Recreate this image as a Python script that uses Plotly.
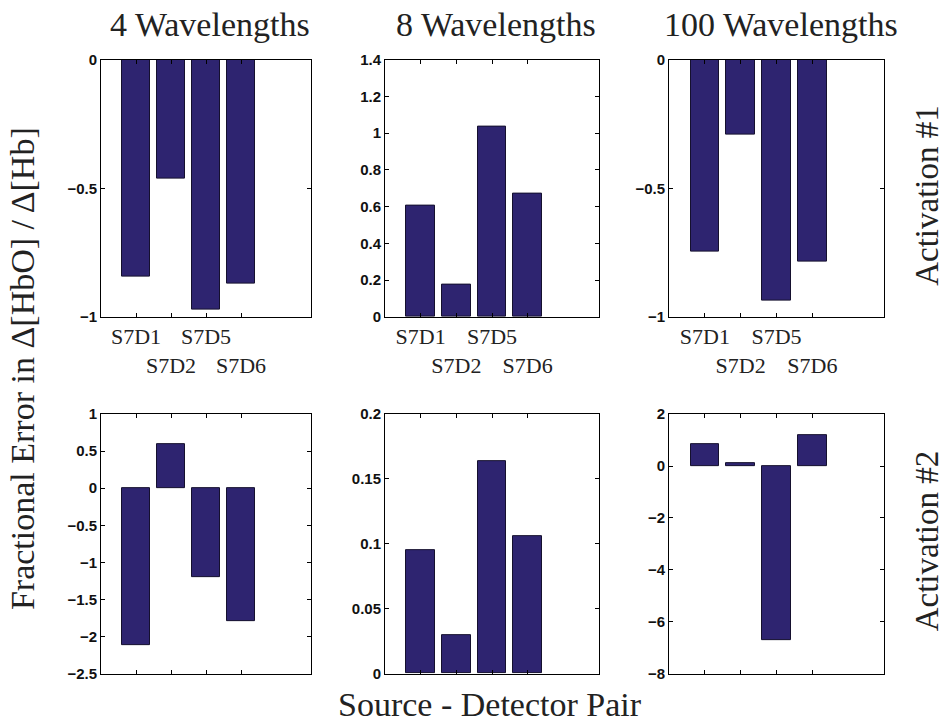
import plotly.graph_objects as go

# ---------------- data ----------------
pairs = ["S7D1", "S7D2", "S7D5", "S7D6"]
pair_labels = ["S7D1", "<br>S7D2", "S7D5", "<br>S7D6"]   # staggered rows

col_titles = ["4 Wavelengths", "8 Wavelengths", "100 Wavelengths"]
row_titles = ["Activation #1", "Activation #2"]

act1_4wl = [-0.843, -0.464, -0.973, -0.870]
act1_8wl = [0.605, 0.174, 1.033, 0.672]
act1_100wl = [-0.746, -0.293, -0.938, -0.785]

act2_4wl = [-2.12, 0.595, -1.20, -1.795]
act2_8wl = [0.0954, 0.0296, 0.164, 0.106]
act2_100wl = [0.86, 0.10, -6.71, 1.19]

y_ranges = [[-1, 0], [0, 1.4], [-1, 0], [-2.5, 1], [0, 0.2], [-8, 2]]
y_ticks = [
    [-1, -0.5, 0],
    [0, 0.2, 0.4, 0.6, 0.8, 1, 1.2, 1.4],
    [-1, -0.5, 0],
    [-2.5, -2, -1.5, -1, -0.5, 0, 0.5, 1],
    [0, 0.05, 0.1, 0.15, 0.2],
    [-8, -6, -4, -2, 0, 2],
]

# ---------------- layout helpers ----------------
W, H = 947, 736
BAR_COLOR = "#2e2470"
SERIF = "Liberation Serif, Times New Roman, serif"
SANS = "Liberation Sans, Arial, sans-serif"

col_px = [(101, 311), (385, 599), (669, 884)]
row_px = [(59, 316), (413, 672)]

def px_x(p):
    return p / W

def px_y(p):
    # empirical correction for vertical placement
    q = (p - 8.45) / 0.9755
    return 1 - q / H

series = [act1_4wl, act1_8wl, act1_100wl, act2_4wl, act2_8wl, act2_100wl]
xs = list(range(1, len(pairs) + 1))

fig = go.Figure()
layout = {}
for i, vals in enumerate(series):
    r, c = divmod(i, 3)
    n = i + 1
    xa = "x" if n == 1 else f"x{n}"
    ya = "y" if n == 1 else f"y{n}"
    fig.add_trace(go.Bar(
        x=xs, y=vals, width=0.8, xaxis=xa, yaxis=ya,
        marker=dict(color=BAR_COLOR, line=dict(color="#15102e", width=1)),
        showlegend=False, hoverinfo="y",
    ))
    xkey = "xaxis" if n == 1 else f"xaxis{n}"
    ykey = "yaxis" if n == 1 else f"yaxis{n}"
    layout[xkey] = dict(
        domain=[px_x(col_px[c][0]), px_x(col_px[c][1])],
        anchor=ya, range=[0, 6],
        tickvals=xs, ticktext=pair_labels if r == 0 else [""] * len(pairs),
        showticklabels=(r == 0), tickangle=0,
        tickfont=dict(family=SERIF, size=22, color="#222"),
        ticks="inside", ticklen=4, tickcolor="black", tickwidth=1,
        showline=True, linecolor="black", linewidth=1, mirror="ticks",
        showgrid=False, zeroline=False, fixedrange=True,
    )
    layout[ykey] = dict(
        domain=[px_y(row_px[r][1]), px_y(row_px[r][0])],
        anchor=xa, range=y_ranges[i], tickvals=y_ticks[i],
        tickfont=dict(family=SANS, size=15, color="#111", weight="bold"),
        ticks="inside", ticklen=4, tickcolor="black", tickwidth=1,
        showline=True, linecolor="black", linewidth=1, mirror="ticks",
        showgrid=False, zeroline=False, fixedrange=True,
    )

annotations = []
for c, t in enumerate(col_titles):
    annotations.append(dict(
        text=t, x=px_x((col_px[c][0] + col_px[c][1]) / 2 + 4), y=px_y(24),
        xref="paper", yref="paper", showarrow=False,
        xanchor="center", yanchor="middle",
        font=dict(family=SERIF, size=34, color="#222"),
    ))
row_label_y = [195, 540]
for r, t in enumerate(row_titles):
    annotations.append(dict(
        text=t, x=px_x(927), y=px_y(row_label_y[r]),
        xref="paper", yref="paper", showarrow=False, textangle=-90,
        xanchor="center", yanchor="middle",
        font=dict(family=SERIF, size=33, color="#222"),
    ))
annotations.append(dict(
    text="Fractional Error in Δ[HbO] / Δ[Hb]", x=px_x(22), y=px_y(368),
    xref="paper", yref="paper", showarrow=False, textangle=-90,
    xanchor="center", yanchor="middle",
    font=dict(family=SERIF, size=34, color="#222"),
))
annotations.append(dict(
    text="Source - Detector Pair", x=px_x(490), y=px_y(703),
    xref="paper", yref="paper", showarrow=False,
    xanchor="center", yanchor="middle",
    font=dict(family=SERIF, size=34, color="#222"),
))

fig.update_layout(
    width=W, height=H,
    margin=dict(l=0, r=0, t=0, b=0),
    paper_bgcolor="white", plot_bgcolor="white",
    bargap=0, annotations=annotations,
    **layout,
)

fig.write_html(
    "out.html",
    config={"displayModeBar": False},
    post_script=(
        "document.documentElement.style.margin='0';"
        "document.body.style.margin='0';"
        "document.body.style.overflow='hidden';"
        "var d=document.getElementById('{plot_id}');"
        "d.style.position='fixed';d.style.top='0px';d.style.left='0px';"
    ),
)
